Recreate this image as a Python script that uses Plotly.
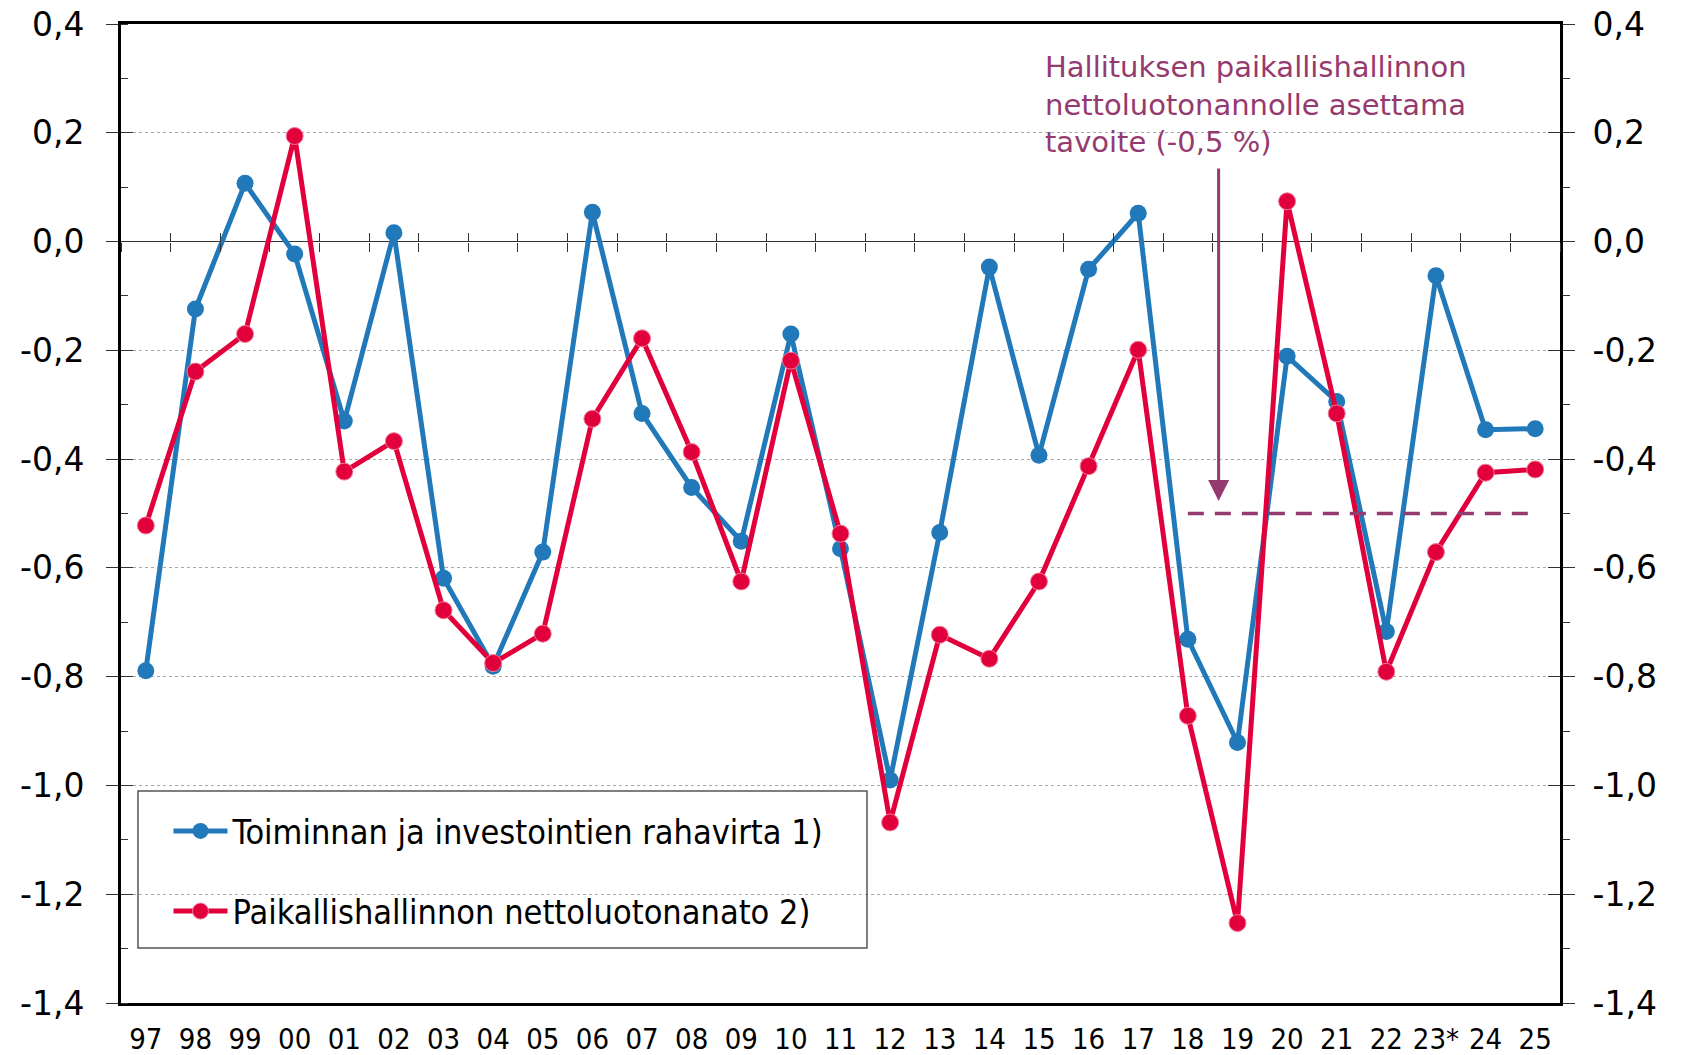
import plotly.graph_objects as go

years = ["97", "98", "99", "00", "01", "02", "03", "04", "05", "06", "07", "08", "09",
         "10", "11", "12", "13", "14", "15", "16", "17", "18", "19", "20", "21", "22",
         "23*", "24", "25"]

rahavirta = [-0.789, -0.124, 0.107, -0.023, -0.330, 0.016, -0.619, -0.781, -0.571, 0.054,
             -0.316, -0.452, -0.551, -0.170, -0.565, -0.990, -0.535, -0.047, -0.393, -0.051,
             0.052, -0.731, -0.921, -0.211, -0.294, -0.717, -0.063, -0.346, -0.344]

nettoluotonanto = [-0.522, -0.239, -0.170, 0.194, -0.423, -0.367, -0.678, -0.775, -0.721, -0.326,
                   -0.178, -0.387, -0.625, -0.219, -0.537, -1.068, -0.723, -0.767, -0.625, -0.413,
                   -0.199, -0.872, -1.253, 0.074, -0.316, -0.791, -0.571, -0.425, -0.419]

target_value = -0.5
target_years = ["18", "25"]
arrow_x = 21.62
arrow_top = 0.137
arrow_tip = -0.477

y_ticks = [0.4, 0.2, 0.0, -0.2, -0.4, -0.6, -0.8, -1.0, -1.2, -1.4]
y_ticklabels = ["0,4", "0,2", "0,0", "-0,2", "-0,4", "-0,6", "-0,8", "-1,0", "-1,2", "-1,4"]
y_range = [-1.4, 0.4]

name_blue = "Toiminnan ja investointien rahavirta 1)"
name_red = "Paikallishallinnon nettoluotonanato 2)"
note = "Hallituksen paikallishallinnon<br>nettoluotonannolle asettama<br>tavoite (-0,5 %)"

BLUE = "#2179B9"
RED = "#E1003C"
PURPLE = "#953A6F"
AXC = "#000000"

fig = go.Figure()

fig.add_trace(go.Scatter(
    x=years, y=rahavirta, name=name_blue, mode="lines+markers",
    line=dict(color=BLUE, width=5), marker=dict(color=BLUE, size=17),
    legendgroup="a", xaxis="x", yaxis="y"))
fig.add_trace(go.Scatter(
    x=years, y=nettoluotonanto, name=name_red, mode="lines+markers",
    line=dict(color=RED, width=5),
    marker=dict(color=RED, size=17, line=dict(color="#F27A98", width=1)),
    legendgroup="b", xaxis="x", yaxis="y"))

# target line on right axis (same scale)
fig.add_trace(go.Scatter(
    x=target_years, y=[target_value, target_value], mode="lines",
    line=dict(color=PURPLE, width=3.5, dash="16px,11px"),
    showlegend=False, hoverinfo="skip", xaxis="x", yaxis="y2"))

# invisible helper traces to create overlay axes for crossing ticks
for xa, ya in [("x2", "y"), ("x3", "y"), ("x", "y3"), ("x", "y4")]:
    fig.add_trace(go.Scatter(x=years, y=rahavirta, mode="lines", line=dict(width=0),
                             opacity=0, showlegend=False, hoverinfo="skip",
                             xaxis=xa, yaxis=ya))

tickfont_y = dict(family="DejaVu Sans", size=33, color="#000")
zero_pos = (0 - y_range[0]) / (y_range[1] - y_range[0])

common_y = dict(range=y_range, tickvals=y_ticks, fixedrange=True, automargin=False)
common_x = dict(type="category", categoryorder="array", categoryarray=years,
                range=[-0.5, len(years) - 0.5], automargin=False)

fig.update_layout(
    width=1680, height=1047,
    margin=dict(l=113, r=128, t=16, b=52, autoexpand=False),
    paper_bgcolor="white", plot_bgcolor="white",
    xaxis=dict(**common_x, showline=True, linecolor=AXC, linewidth=3,
               mirror=True, ticks="", showgrid=False, zeroline=False,
               tickfont=dict(family="DejaVu Sans Condensed", size=29, color="#000"),
               ticklabelstandoff=8, ticklabeloverflow="allow"),
    xaxis2=dict(**common_x, overlaying="x", anchor="free",
                position=zero_pos, side="bottom", showline=False, showgrid=False,
                zeroline=False, ticks="outside", tickson="boundaries", ticklen=9,
                tickwidth=1.2, tickcolor="#333", showticklabels=False),
    xaxis3=dict(**common_x, overlaying="x", anchor="free",
                position=zero_pos, side="bottom", showline=False, showgrid=False,
                zeroline=False, ticks="inside", tickson="boundaries", ticklen=9,
                tickwidth=1.2, tickcolor="#333", showticklabels=False),
    yaxis=dict(**common_y, ticktext=y_ticklabels, side="left", showline=True,
               linecolor=AXC, linewidth=3, ticks="outside", ticklen=12, tickwidth=1.2,
               tickcolor="#333", showgrid=True, gridcolor="#A8A8A8", griddash="dot",
               gridwidth=1, zeroline=True, zerolinecolor="#333", zerolinewidth=1.3,
               tickfont=tickfont_y, ticklabelstandoff=15, ticklabeloverflow="allow",
               minor=dict(ticks="inside", ticklen=7, tickwidth=1.2, tickcolor="#333",
                          dtick=0.1, tick0=0.1, showgrid=False)),
    yaxis2=dict(**common_y, ticktext=y_ticklabels, overlaying="y", side="right",
                showline=True, linecolor=AXC, linewidth=3, ticks="outside", ticklen=12,
                tickwidth=1.2, tickcolor="#333", showgrid=False, zeroline=False,
                tickfont=tickfont_y, ticklabelstandoff=11, ticklabeloverflow="allow",
                minor=dict(ticks="outside", ticklen=7, tickwidth=1.2, tickcolor="#333",
                           dtick=0.1, tick0=0.1, showgrid=False)),
    yaxis3=dict(**common_y, overlaying="y", side="left", showline=False, ticks="inside",
                ticklen=12, tickwidth=1.2, tickcolor="#333", showgrid=False,
                zeroline=False, showticklabels=False),
    yaxis4=dict(**common_y, overlaying="y", side="right", showline=False, ticks="inside",
                ticklen=12, tickwidth=1.2, tickcolor="#333", showgrid=False,
                zeroline=False, showticklabels=False),
    legend=dict(x=0.033, y=0.205, xanchor="left", yanchor="top",
                bgcolor="rgba(0,0,0,0)", borderwidth=0,
                font=dict(family="DejaVu Sans Condensed", size=34, color="#000"),
                tracegroupgap=33, itemwidth=54),
    showlegend=True,
)

# legend frame
fig.add_shape(type="rect", xref="paper", yref="paper", x0=0.0118, x1=0.5184,
              y0=0.0562, y1=0.2166, line=dict(color="#555", width=1.5),
              fillcolor="rgba(0,0,0,0)", layer="above")

fig.add_annotation(text=note, xref="paper", yref="paper", x=0.641, y=0.975,
                   xanchor="left", yanchor="top", align="left", showarrow=False,
                   font=dict(family="DejaVu Sans", size=29, color=PURPLE))

fig.add_annotation(x=arrow_x, y=arrow_tip, ax=arrow_x, ay=arrow_top,
                   xref="x", yref="y", axref="x", ayref="y", text="",
                   showarrow=True, arrowhead=2, arrowsize=1.4, arrowwidth=3,
                   arrowcolor=PURPLE)

fig.write_html("out.html")
